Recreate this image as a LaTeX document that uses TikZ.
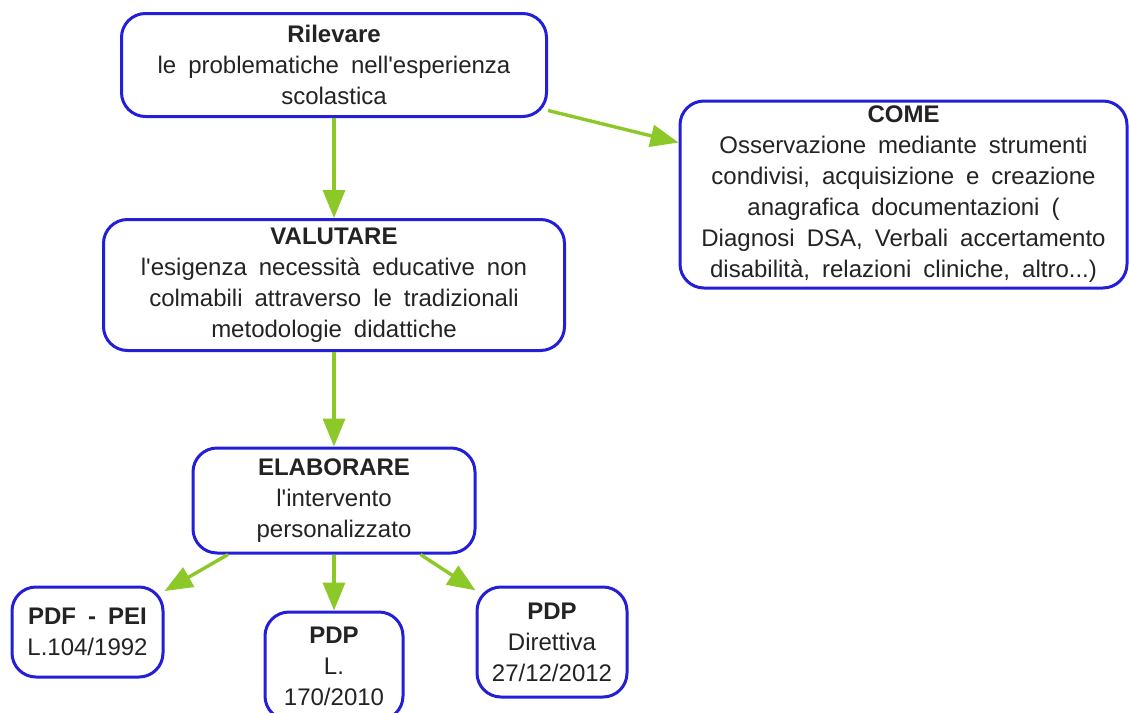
\documentclass[tikz,border=0pt]{standalone}
\usepackage{fontspec}
\setmainfont{Liberation Sans}[WordSpace=1.8]
\usetikzlibrary{arrows.meta}
\definecolor{mapblue}{RGB}{35,30,215}
\definecolor{mapgreen}{RGB}{140,200,40}
\definecolor{maptext}{RGB}{35,35,35}

\begin{document}
\begin{tikzpicture}[x=0.5pt, y=-0.5pt,
  mapbox/.style={draw=mapblue, line width=1.5pt, rounded corners=12pt, fill=white, align=center, inner sep=1pt, text=maptext, font=\fontsize{12}{15.5}\selectfont},
  link/.style={draw=mapgreen, line width=1.7pt, -{Triangle[length=14pt,width=11pt]}}]

\useasboundingbox (0,0) rectangle (1129,712);

\node [mapbox, minimum width=212.5pt, minimum height=51.5pt] (rilevare) at (334,65) {\textbf{Rilevare}\\le problematiche nell\textquotesingle esperienza\\scolastica};

\node [mapbox, minimum width=223.5pt, minimum height=93.5pt] (come) at (903.5,194.5) {\textbf{COME}\\Osservazione mediante strumenti\\condivisi, acquisizione e creazione\\anagrafica documentazioni (\\Diagnosi DSA, Verbali accertamento\\disabilità, relazioni cliniche, altro...)};

\node [mapbox, minimum width=230.5pt, minimum height=65.5pt] (valutare) at (334,285) {\textbf{VALUTARE}\\l\textquotesingle esigenza necessità educative non\\colmabili attraverso le tradizionali\\metodologie didattiche};

\node [mapbox, minimum width=141pt, minimum height=52.5pt] (elaborare) at (334,500.5) {\textbf{ELABORARE}\\l\textquotesingle intervento\\personalizzato};

\node [mapbox, minimum width=75.5pt, minimum height=45pt] (pdfpei) at (87.5,632) {\textbf{PDF - PEI}\\L.104/1992};

\node [mapbox, minimum width=69pt, minimum height=54pt] (pdpl) at (334,666) {\textbf{PDP}\\L.\\170/2010};

\node [mapbox, minimum width=75pt, minimum height=55pt] (pdpdir) at (552,642) {\textbf{PDP}\\Direttiva\\27/12/2012};

\draw [link] (rilevare.south) -- (valutare.north);
\draw [link] (rilevare.-12) -- (come.167);
\draw [link] (valutare.south) -- (elaborare.north);

\draw [link] (elaborare.207.5) -- (pdfpei.28);
\draw [link] (elaborare.south) -- (pdpl.north);
\draw [link] (elaborare.-32) -- (pdpdir.146);

\end{tikzpicture}
\end{document}
